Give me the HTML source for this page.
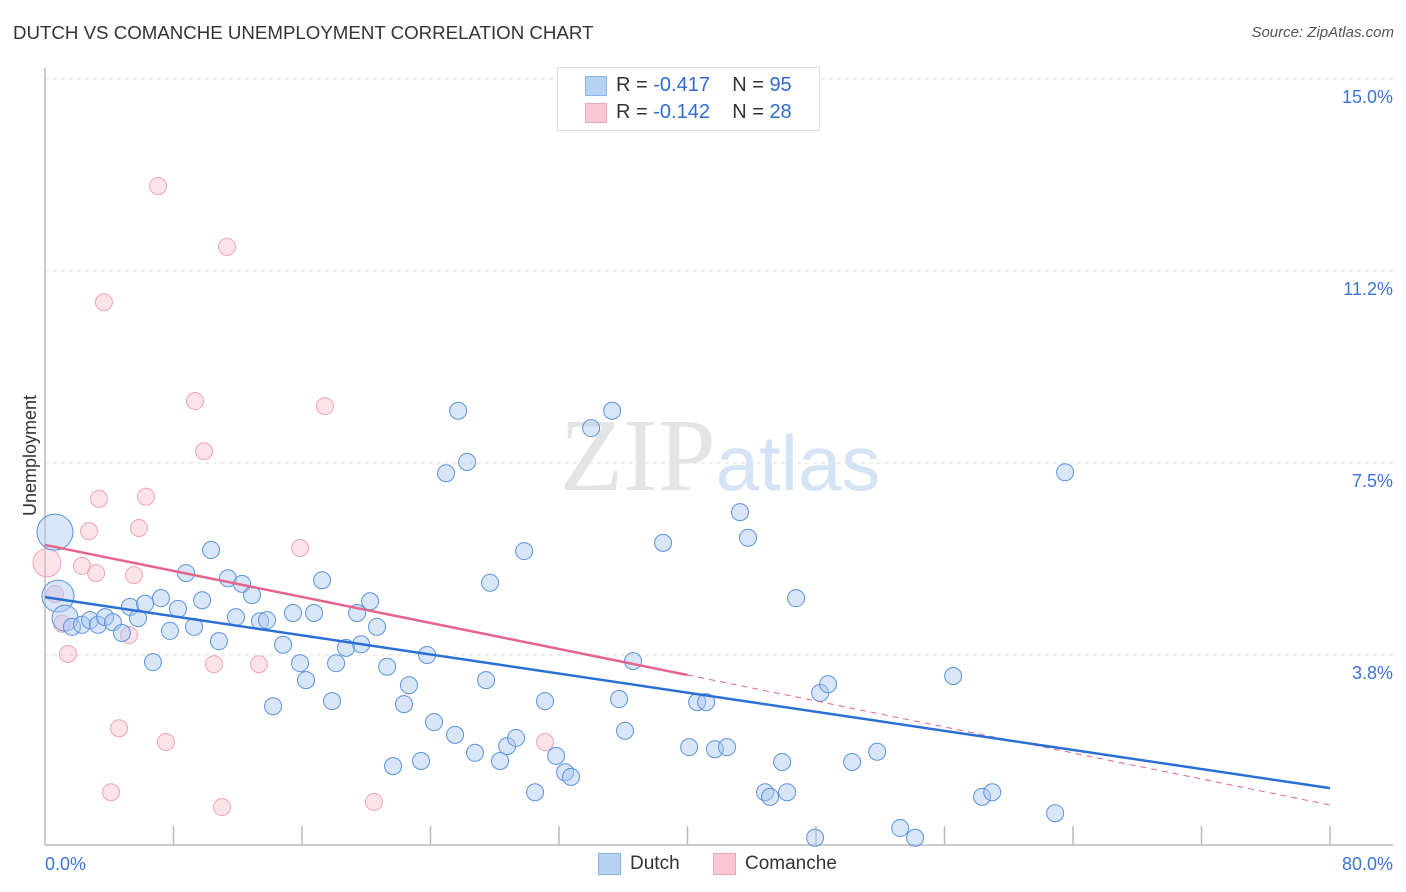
<!DOCTYPE html>
<html><head><meta charset="utf-8"><style>
body{margin:0;background:#fff;font-family:"Liberation Sans",sans-serif;}
#wrap{position:relative;width:1406px;height:892px;overflow:hidden;}
.t{position:absolute;white-space:nowrap;}
</style></head><body>
<div id="wrap">
<div class="t" style="left:13px;top:22px;font-size:18.7px;color:#333;">DUTCH VS COMANCHE UNEMPLOYMENT CORRELATION CHART</div>
<div class="t" style="right:12px;top:24px;font-size:15px;color:#555;font-style:italic;">Source: ZipAtlas.com</div>
<div class="t" style="left:-30px;top:445px;font-size:18px;color:#333;transform:rotate(-90deg);">Unemployment</div>
<svg id="plot" width="1406" height="892" style="position:absolute;left:0;top:0"></svg>
<div style="position:absolute;left:557px;top:67px;width:261px;height:62px;border:1px solid #ddd;background:#fff;">
 <div style="position:absolute;left:27px;top:8px;width:20px;height:18px;background:#b7d1f3;border:1px solid #8ab1e8;"></div>
 <div class="t" style="left:58px;top:6px;font-size:20px;color:#333;">R = <span style="color:#2f6bd1">-0.417</span>&nbsp;&nbsp;&nbsp; N = <span style="color:#2f6bd1">95</span></div>
 <div style="position:absolute;left:27px;top:35px;width:20px;height:18px;background:#f9c6d4;border:1px solid #eea5b8;"></div>
 <div class="t" style="left:58px;top:33px;font-size:20px;color:#333;">R = <span style="color:#2f6bd1">-0.142</span>&nbsp;&nbsp;&nbsp; N = <span style="color:#2f6bd1">28</span></div>
</div>
<div style="position:absolute;left:598px;top:853px;width:21px;height:20px;background:#b7d1f3;border:1px solid #8ab1e8;"></div>
<div class="t" style="left:630px;top:853px;font-size:19px;color:#333;">Dutch</div>
<div style="position:absolute;left:713px;top:853px;width:21px;height:20px;background:#f9c6d4;border:1px solid #eea5b8;"></div>
<div class="t" style="left:745px;top:853px;font-size:19px;color:#333;">Comanche</div>
</div>
<script>
const yTicks=[15,11.25,7.5,3.75];
const yTickLabels=["15.0%","11.2%","7.5%","3.8%"];
const xLabels=["0.0%","80.0%"];
const dutchX=[0.62,0.81,1.25,1.68,2.30,2.80,3.30,3.74,4.23,4.79,5.29,5.79,6.23,6.72,7.22,7.78,8.28,8.78,9.28,9.78,10.34,10.83,11.39,11.89,12.27,12.89,13.39,13.82,14.20,14.82,15.44,15.88,16.25,16.75,17.25,17.87,18.12,18.74,19.43,19.68,20.24,20.67,21.30,21.67,22.35,22.66,23.41,23.79,24.22,24.97,25.53,25.72,26.28,26.77,27.46,27.71,28.33,28.77,29.33,29.83,30.51,31.13,31.82,32.38,32.75,34.00,35.31,35.74,36.11,36.61,38.48,40.10,40.60,41.16,41.71,42.46,43.27,43.77,44.83,45.14,45.89,46.20,46.76,47.94,48.26,48.75,50.25,51.81,53.24,54.17,56.54,58.34,58.97,62.89,63.51];
const dutchY=[6.15,4.90,4.47,4.30,4.34,4.43,4.34,4.49,4.39,4.18,4.69,4.47,4.75,3.61,4.86,4.22,4.65,5.35,4.30,4.82,5.80,4.02,5.25,4.49,5.14,4.92,4.41,4.43,2.75,3.95,4.57,3.59,3.26,4.57,5.21,2.85,3.59,3.89,4.57,3.96,4.80,4.30,3.52,1.58,2.79,3.16,1.68,3.75,2.44,7.30,2.19,8.52,7.52,1.84,3.26,5.16,1.68,1.97,2.13,5.78,1.07,2.85,1.78,1.46,1.37,8.18,8.52,2.89,2.27,3.63,5.94,1.95,2.83,2.83,1.91,1.95,6.54,6.04,1.07,0.98,1.66,1.07,4.86,0.18,3.01,3.18,1.66,1.86,0.37,0.18,3.34,0.98,1.07,0.66,7.32];
const dutchSize=[18,16,13];
const comX=[7.04,11.33,3.67,9.34,17.43,9.90,3.36,6.29,2.74,5.85,15.88,0.12,2.30,3.18,5.54,0.62,1.06,1.43,5.23,10.52,13.32,4.61,7.53,31.13,4.11,11.02,20.48];
const comY=[12.91,11.72,10.64,8.71,8.61,7.73,6.80,6.84,6.17,6.23,5.84,5.55,5.49,5.35,5.31,4.94,4.36,3.77,4.14,3.57,3.57,2.32,2.05,2.05,1.07,0.78,0.88];
const comSize=[0,0,0,0,0,0,0,0,0,0,0,14];
const dutchTrend=[4.88,1.15];
const comTrend=[5.90,0.82];
const comSolidEnd=40;

const X=v=>45+v*(1285/80), Y=v=>847-v*51.2;
const svg=document.getElementById('plot');const NS='http://www.w3.org/2000/svg';
function mk(tag,at){const e=document.createElementNS(NS,tag);for(const k in at)e.setAttribute(k,at[k]);svg.appendChild(e);return e;}
yTicks.forEach((v,i)=>{
 const g=mk('line',{x1:45,x2:1393,y1:Y(v),y2:Y(v),stroke:'#ddd','stroke-dasharray':'4,4'});
 
 
 const t=mk('text',{x:1393,y:Y(v)+24,'text-anchor':'end','font-size':18,fill:'#3b74d6','font-family':'Liberation Sans'});
 t.textContent=yTickLabels[i];
 
 
});
const ax=mk('line',{x1:45,x2:45,y1:68,y2:845,stroke:'#bbb','stroke-width':1.5});


const bx=mk('line',{x1:45,x2:1393,y1:845,y2:845,stroke:'#bbb','stroke-width':1.5});


for(let i=1;i<=10;i++){const tk=mk('line',{x1:X(i*8),x2:X(i*8),y1:826,y2:845,stroke:'#bbb','stroke-width':1.5});
 
 }
[[0,'start',45],[80,'end',1393]].forEach((a,i)=>{const t=mk('text',{x:a[2],y:870,'text-anchor':a[1],'font-size':18,fill:'#3b74d6','font-family':'Liberation Sans'});t.textContent=xLabels[i];
 
 });
const wm=mk('text',{x:720,y:490,'text-anchor':'middle','font-size':104,'font-family':'Liberation Serif',fill:'#e4e4e4'});
wm.innerHTML='ZIP<tspan fill="#d6e3f5" font-family="Liberation Sans" font-size="78">atlas</tspan>';


comX.forEach((x,i)=>{const c=mk('circle',{cx:X(x),cy:Y(comY[i]),r:comSize[i]||8.5,fill:'rgba(249,190,207,0.45)',stroke:'#eea5b8','stroke-width':1});
 
 });
dutchX.forEach((x,i)=>{const c=mk('circle',{cx:X(x),cy:Y(dutchY[i]),r:dutchSize[i]||8.5,fill:'rgba(170,200,240,0.45)',stroke:'#5b92de','stroke-width':1});
 
 });
const cAt=x=>comTrend[0]+(comTrend[1]-comTrend[0])*x/80;
const l1=mk('line',{x1:X(0),y1:Y(cAt(0)),x2:X(comSolidEnd),y2:Y(cAt(comSolidEnd)),stroke:'#e4648c','stroke-width':2.5});


const l2=mk('line',{x1:X(comSolidEnd),y1:Y(cAt(comSolidEnd)),x2:X(80),y2:Y(cAt(80)),stroke:'#e4648c','stroke-width':1,'stroke-dasharray':'6,5'});


const l3=mk('line',{x1:X(0),y1:Y(dutchTrend[0]),x2:X(80),y2:Y(dutchTrend[1]),stroke:'#2a6fd6','stroke-width':2.5});


</script>
</body></html>
